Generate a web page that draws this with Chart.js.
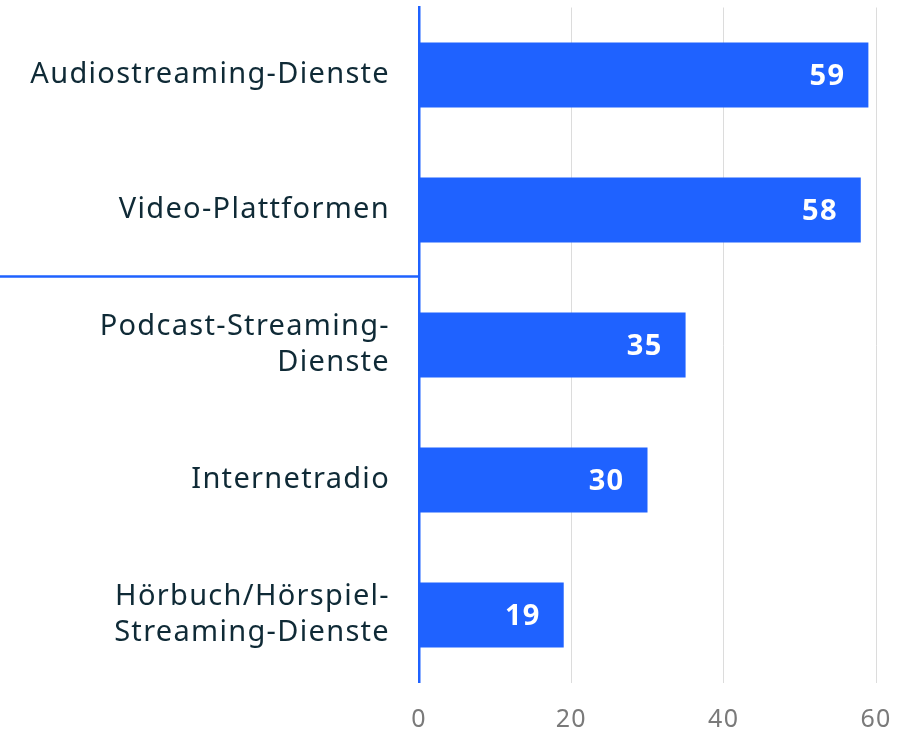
<!DOCTYPE html>
<html>
<head>
<meta charset="utf-8">
<script src="https://cdn.jsdelivr.net/npm/chart.js@4"></script>
<style>
  html, body { margin: 0; padding: 0; background: #fff; }
  #wrap { width: 900px; height: 731px; }
</style>
</head>
<body>
<div id="wrap"><canvas id="myChart" width="900" height="731"></canvas></div>
<script>
const categories = [
  'Audiostreaming-Dienste',
  'Video-Plattformen',
  ['Podcast-Streaming-', 'Dienste'],
  'Internetradio',
  ['Hörbuch/Hörspiel-', 'Streaming-Dienste']
];
const values = [59, 58, 35, 30, 19];
const xTicks = [0, 20, 40, 60];

const barColor = '#1f62ff';
const fontFamily = '"Noto Sans", "Open Sans", sans-serif';

// a bit of tracking, the original font runs wider than Noto Sans
const spacing = {
  id: 'spacing',
  beforeUpdate(chart) { chart.ctx.letterSpacing = '1.3px'; },
  beforeDraw(chart) { chart.ctx.letterSpacing = '1.3px'; }
};

// white value labels inside the bar end + separator line under the 2nd category
const extras = {
  id: 'extras',
  afterDatasetsDraw(chart) {
    const ctx = chart.ctx;
    const meta = chart.getDatasetMeta(0);
    ctx.save();
    ctx.fillStyle = '#fff';
    ctx.font = 'bold 29px ' + fontFamily;
    ctx.textAlign = 'right';
    ctx.textBaseline = 'middle';
    meta.data.forEach((bar, i) => {
      ctx.fillText(values[i], bar.x - 23, bar.y + 2);
    });
    const y = chart.scales.y;
    const sepY = (y.getPixelForTick(1) + y.getPixelForTick(2)) / 2 - 1;
    ctx.strokeStyle = barColor;
    ctx.lineWidth = 2.5;
    ctx.beginPath();
    ctx.moveTo(0, sepY);
    ctx.lineTo(chart.chartArea.left, sepY);
    ctx.stroke();
    ctx.restore();
  }
};

new Chart(document.getElementById('myChart'), {
  type: 'bar',
  data: {
    labels: categories,
    datasets: [{
      data: values,
      backgroundColor: barColor,
      barPercentage: 0.96,
      categoryPercentage: 0.5
    }]
  },
  options: {
    indexAxis: 'y',
    responsive: false,
    animation: false,
    layout: { padding: { top: 7.5, right: 24, left: 0, bottom: 0 } },
    plugins: { legend: { display: false }, tooltip: { enabled: false } },
    scales: {
      x: {
        min: 0,
        max: 60,
        afterBuildTicks: axis => { axis.ticks = xTicks.map(v => ({ value: v })); },
        afterFit: axis => {
          axis.height = 48.5;
          axis.paddingLeft = 0;
          axis.paddingRight = 0;
        },
        grid: { color: '#dcdcdc', lineWidth: 1, drawTicks: false },
        border: { display: false },
        ticks: {
          color: '#7a7a7a',
          padding: 22,
          font: { family: fontFamily, size: 25 }
        }
      },
      y: {
        afterFit: axis => {
          axis.width = 419;
          axis.paddingTop = 0;
          axis.paddingBottom = 0;
        },
        grid: { display: false, drawTicks: false },
        border: { display: true, color: barColor, width: 2.5 },
        ticks: {
          color: '#0f2a36',
          padding: 29,
          font: { family: fontFamily, size: 29, lineHeight: 1.25 }
        }
      }
    }
  },
  plugins: [spacing, extras]
});
</script>
</body>
</html>
